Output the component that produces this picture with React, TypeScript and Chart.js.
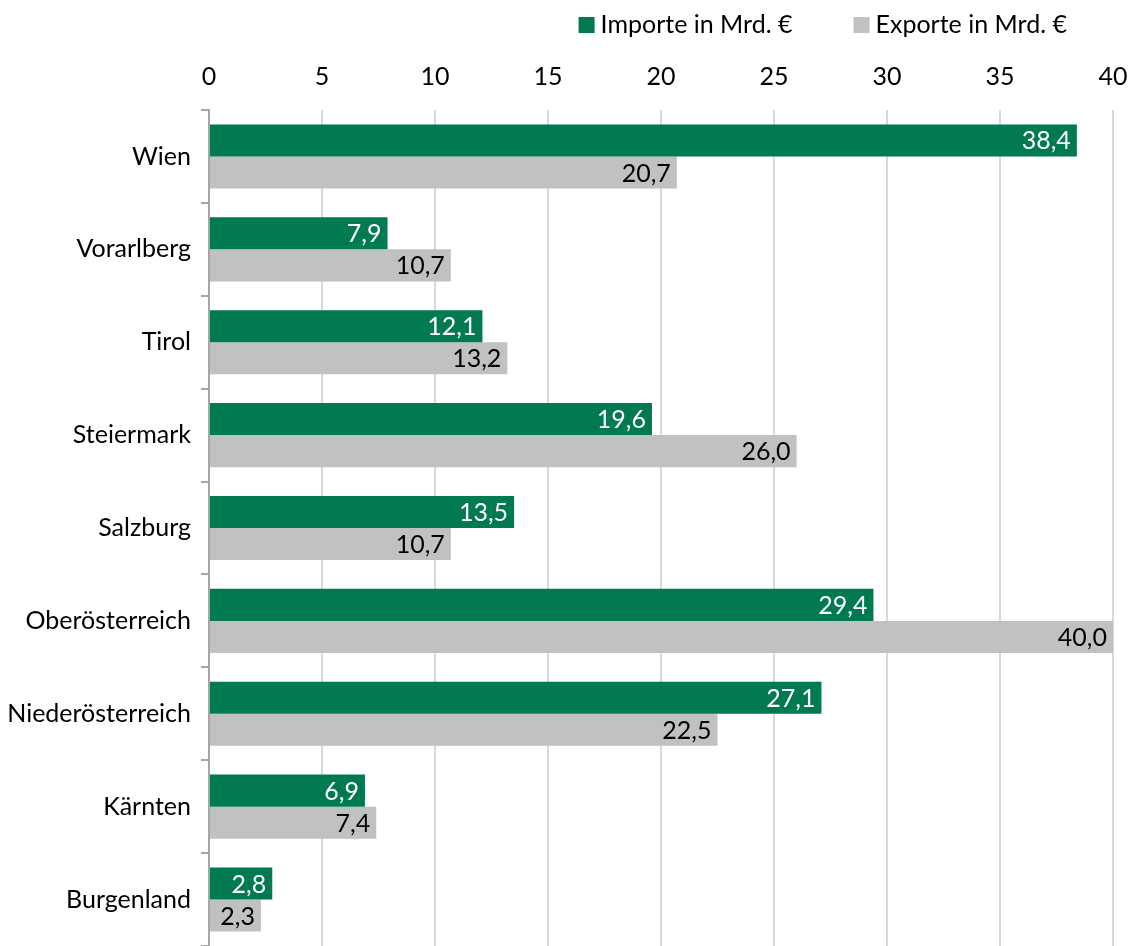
import React, { useEffect, useRef } from "react";
import { Chart, registerables } from "chart.js";

Chart.register(...registerables);

const categories = [
  "Wien",
  "Vorarlberg",
  "Tirol",
  "Steiermark",
  "Salzburg",
  "Oberösterreich",
  "Niederösterreich",
  "Kärnten",
  "Burgenland",
];
const importe = [38.4, 7.9, 12.1, 19.6, 13.5, 29.4, 27.1, 6.9, 2.8];
const exporte = [20.7, 10.7, 13.2, 26.0, 10.7, 40.0, 22.5, 7.4, 2.3];
const seriesNames = ["Importe in Mrd. €", "Exporte in Mrd. €"];
const seriesColors = ["#007A4E", "#BFC1C2"];
const labelColors = ["#FFFFFF", "#000000"];

const FONT = "Lato";
const FS = 25;

const fmt = (v: number) => v.toFixed(1).replace(".", ",");

const dataLabelPlugin = {
  id: "dataLabels",
  afterDatasetsDraw(chart: any) {
    const ctx = chart.ctx;
    ctx.save();
    ctx.font = `${FS}px ${FONT}`;
    ctx.textAlign = "right";
    ctx.textBaseline = "middle";
    chart.data.datasets.forEach((ds: any, di: number) => {
      const meta = chart.getDatasetMeta(di);
      meta.data.forEach((el: any, i: number) => {
        ctx.fillStyle = labelColors[di];
        ctx.fillText(fmt(ds.data[i]), el.x - 6, el.y + 1);
      });
    });
    ctx.restore();
  },
};

const legendPlugin = {
  id: "customLegend",
  afterDraw(chart: any) {
    const ctx = chart.ctx;
    ctx.save();
    ctx.font = `${FS}px ${FONT}`;
    ctx.textBaseline = "middle";
    ctx.textAlign = "left";
    const box = 16;
    const gap = 6;
    const itemGap = 61;
    const widths = seriesNames.map((n) => ctx.measureText(n).width);
    const total =
      widths.reduce((a, b) => a + b, 0) + seriesNames.length * (box + gap) + itemGap * (seriesNames.length - 1);
    let x = 1067 - total;
    const yc = 25;
    seriesNames.forEach((n, i) => {
      ctx.fillStyle = seriesColors[i];
      ctx.fillRect(x, yc - box / 2, box, box);
      x += box + gap;
      ctx.fillStyle = "#000";
      ctx.fillText(n, x, yc);
      x += widths[i] + itemGap;
    });
    ctx.restore();
  },
};

export default function App() {
  const ref = useRef<HTMLCanvasElement>(null);
  useEffect(() => {
    if (!ref.current) return;
    const chart = new Chart(ref.current, {
      type: "bar",
      data: {
        labels: categories,
        datasets: [
          {
            label: seriesNames[0],
            data: importe,
            backgroundColor: seriesColors[0],
            categoryPercentage: 0.69,
            barPercentage: 1,
          },
          {
            label: seriesNames[1],
            data: exporte,
            backgroundColor: seriesColors[1],
            categoryPercentage: 0.69,
            barPercentage: 1,
          },
        ],
      },
      options: {
        indexAxis: "y",
        responsive: false,
        animation: false,
        layout: { padding: { top: 0, right: 21, left: 0, bottom: 0 } },
        plugins: {
          legend: { display: false },
          tooltip: { enabled: false },
        },
        scales: {
          x: {
            position: "top",
            min: 0,
            max: 40,
            ticks: {
              stepSize: 5,
              color: "#000",
              font: { family: FONT, size: FS },
              padding: 18,
            },
            grid: { color: "#D9D9D9", lineWidth: 2, drawTicks: false },
            border: { display: false },
            afterFit(scale: any) {
              scale.height = 110;
              scale.paddingLeft = 0;
              scale.paddingRight = 0;
            },
          },
          y: {
            ticks: {
              color: "#000",
              font: { family: FONT, size: FS },
              padding: 10,
            },
            grid: {
              drawOnChartArea: false,
              drawTicks: true,
              tickLength: 8,
              color: "#A6A6A6",
              lineWidth: 2,
              offset: true,
            },
            border: { display: true, color: "#A6A6A6", width: 2 },
            afterFit(scale: any) {
              scale.width = 209;
              scale.paddingTop = 0;
              scale.paddingBottom = 0;
            },
          },
        },
      },
      plugins: [dataLabelPlugin, legendPlugin],
    });
    return () => chart.destroy();
  }, []);
  return (
    <div style={{ position: "fixed", left: 0, top: 0, width: 1134, height: 946, background: "#fff" }}>
      <canvas ref={ref} width={1134} height={946} style={{ display: "block" }} />
    </div>
  );
}
